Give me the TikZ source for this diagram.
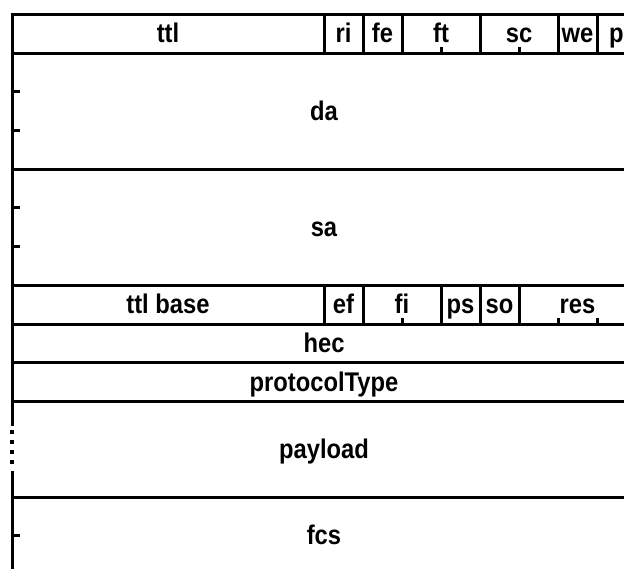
\documentclass[tikz,border=0pt]{standalone}
\usepackage{fontspec}
\newfontfamily\fieldfont[FakeStretch=0.88]{Liberation Sans Bold}
\usetikzlibrary{positioning}

\begin{document}
\begin{tikzpicture}[
        x=1pt, y=-1pt,
        field/.style={draw, line width=3pt, inner sep=0pt, outer sep=0pt, minimum height=38.7pt, text height=19pt, text depth=1pt, font=\fontsize{27}{27}\fieldfont},
        bits/.style={minimum width=#1*39pt},
        rows/.style={minimum height=#1*38.7pt},
        bittick/.style={line width=3pt}
    ]
        \clip (0,0) rectangle (624,569);
        \useasboundingbox (0,0) rectangle (624,569);

        % first word
        \node[field, bits=8, anchor=north west] (ttl) at (12,14.5) {ttl};
        \node[field, bits=1, right=0pt of ttl] (ri) {ri};
        \node[field, bits=1, right=0pt of ri] (fe) {fe};
        \node[field, bits=2, right=0pt of fe] (ft) {ft};
        \node[field, bits=2, right=0pt of ft] (sc) {sc};
        \node[field, bits=1, right=0pt of sc] (we) {we};
        \node[field, bits=1, right=0pt of we] (p) {p};
        \draw[bittick] (ft.south) -- ++(0,-6);
        \draw[bittick] (sc.south) -- ++(0,-6);

        % addresses
        \node[field, bits=16, rows=3, anchor=north west] (da) at (ttl.south west) {da};
        \node[field, bits=16, rows=3, anchor=north west] (sa) at (da.south west) {sa};
        \foreach \addr in {da, sa}
            \foreach \k in {1,2} {
                \draw[bittick] ([yshift=-\k*38.7pt]\addr.north west) -- ++(8,0);
                \draw[bittick] ([yshift=-\k*38.7pt]\addr.north east) -- ++(-8,0);
            }

        % ttl base word
        \node[field, bits=8, anchor=north west] (ttlbase) at (sa.south west) {ttl base};
        \node[field, bits=1, right=0pt of ttlbase] (ef) {ef};
        \node[field, bits=2, right=0pt of ef] (fi) {fi};
        \node[field, bits=1, right=0pt of fi] (ps) {ps};
        \node[field, bits=1, right=0pt of ps] (so) {so};
        \node[field, bits=3, right=0pt of so] (res) {res};
        \draw[bittick] (fi.south) -- ++(0,-6);
        \draw[bittick] ([xshift=39pt]res.south west) -- ++(0,-6);
        \draw[bittick] ([xshift=-39pt]res.south east) -- ++(0,-6);

        \node[field, bits=16, anchor=north west] (hec) at (ttlbase.south west) {hec};
        \node[field, bits=16, anchor=north west] (protocol) at (hec.south west) {protocolType};

        % payload, skipped words on the sides
        \node[field, draw=none, bits=16, minimum height=95.5pt, anchor=north west] (payload) at (protocol.south west) {payload};
        \draw[line width=3pt] (payload.north west) -- (payload.north east);
        \draw[line width=3pt] (payload.south west) -- (payload.south east);
        \foreach \side in {west, east} {
            \draw[line width=3pt] (payload.north \side) -- ++(0,24.5);
            \draw[line width=3pt] (payload.south \side) -- ++(0,-26.5);
            \draw[line width=4pt, dash pattern=on 4pt off 6pt] ([yshift=-28.5pt]payload.north \side) -- ++(0,38);
        }

        \node[field, bits=16, rows=2, anchor=north west] (fcs) at (payload.south west) {fcs};
        \draw[bittick] ([yshift=-38.7pt]fcs.north west) -- ++(8,0);
        \draw[bittick] ([yshift=-38.7pt]fcs.north east) -- ++(-8,0);
    \end{tikzpicture}
\end{document}
